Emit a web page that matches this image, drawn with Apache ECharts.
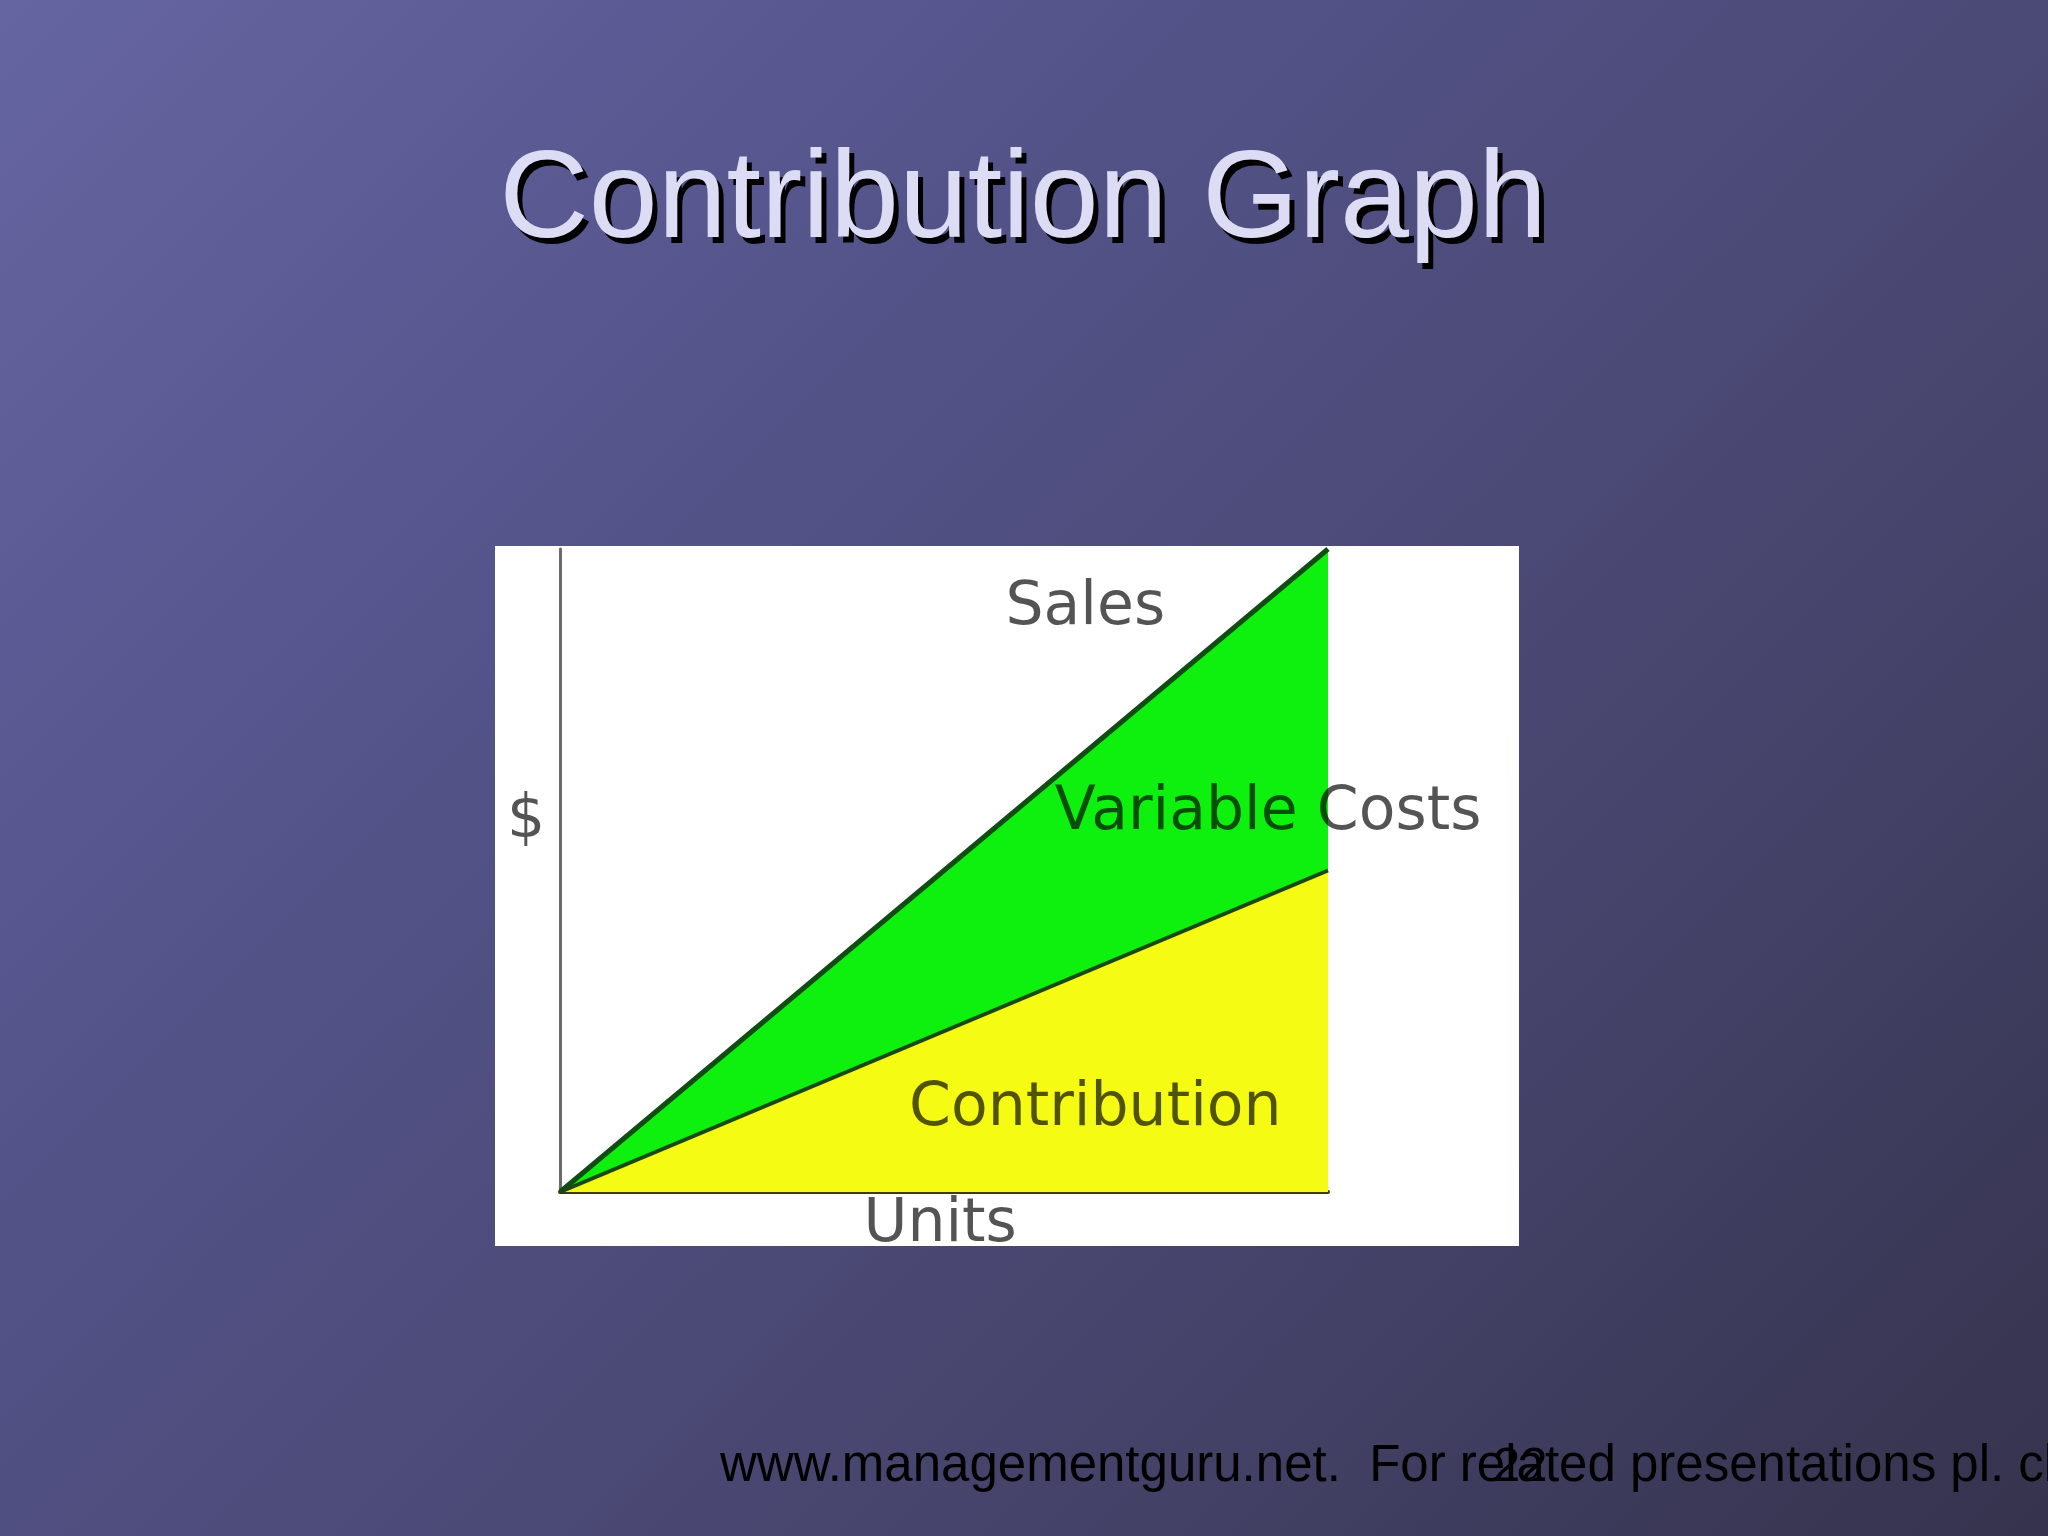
<!DOCTYPE html>
<html>
<head>
<meta charset="utf-8">
<script src="https://cdn.jsdelivr.net/npm/echarts@6/dist/echarts.min.js"></script>
<style>
html,body{margin:0;padding:0;width:2048px;height:1536px;overflow:hidden;
background: linear-gradient(135deg, #6565a2 0%, #55548b 30%, #48466f 65%, #35334d 100%);}
#c{width:2048px;height:1536px;}
</style>
</head>
<body>
<div id="c"></div>
<script>
// Data
const units = [0, 100];
const sales = [0, 100];
const variableCosts = [0, 50];
// Annotation labels (text, anchor in data units)
const labelTexts = ['Sales', 'Variable Costs', 'Contribution', 'Units', '$'];
const labelAnchors = [[68.4, 90.7], [92.2, 58.9], [69.7, 12.9], [49.5, -5.2], [-4.4, 57.6]];

const chart = echarts.init(document.getElementById('c'), null, {renderer: 'canvas'});
const salesData = units.map((u, i) => [u, sales[i]]);
const vcData = units.map((u, i) => [u, variableCosts[i]]);
const labelData = labelTexts.map((t, i) => ({name: t, value: labelAnchors[i]}));

const titleFont = '124px "Liberation Sans", Arial, sans-serif';
chart.setOption({
  backgroundColor: 'transparent',
  animation: false,
  graphic: [
    {type: 'rect', z: -10, shape: {x: 495, y: 546, width: 1024, height: 700}, style: {fill: '#ffffff'}},
    {type: 'text', z: 9, x: 1028, y: 147, style: {text: 'Contribution Graph', font: titleFont,
      fill: '#000000', align: 'center', verticalAlign: 'top'}},
    {type: 'text', z: 10, x: 1023, y: 141, style: {text: 'Contribution Graph', font: titleFont,
      fill: '#dcdcf5', align: 'center', verticalAlign: 'top'}},
    {type: 'text', z: 10, x: 720, y: 1441, style: {text: 'www.managementguru.net.  For related presentations pl. click the link', font: '51px "Liberation Sans", Arial, sans-serif',
      fill: '#000', align: 'left', verticalAlign: 'top'}},
    {type: 'text', z: 11, x: 1493, y: 1443, style: {text: '22', font: '49px "Liberation Sans", Arial, sans-serif',
      fill: '#000', align: 'left', verticalAlign: 'top'}}
  ],
  grid: {left: 560, right: 720, top: 549, bottom: 344, containLabel: false},
  xAxis: {type: 'value', min: 0, max: 100, axisLine: {show: true, onZero: false, lineStyle: {color: '#3d3a14', width: 4}},
    axisTick: {show: false}, axisLabel: {show: false}, splitLine: {show: false}},
  yAxis: {type: 'value', min: 0, max: 100, axisLine: {show: true, onZero: false, lineStyle: {color: '#6a6a6a', width: 3}},
    axisTick: {show: false}, axisLabel: {show: false}, splitLine: {show: false}},
  series: [
    {type: 'line', name: 'Sales', data: salesData, symbol: 'none', z: 2,
      lineStyle: {color: '#0f4d12', width: 5}, areaStyle: {color: '#0ef00e', opacity: 1}},
    {type: 'line', name: 'Variable Costs', data: vcData, symbol: 'none', z: 3,
      lineStyle: {color: '#1a4718', width: 4}, areaStyle: {color: '#f6fb14', opacity: 1}},
    {type: 'scatter', name: 'labels', data: labelData, symbolSize: 0, clip: false, z: 5, silent: true,
      label: {show: true, position: 'inside', formatter: p => p.name, color: 'rgba(0,0,0,0.84)',
        fontFamily: '"DejaVu Sans", Verdana, sans-serif', fontSize: 60}}
  ]
});
</script>
</body>
</html>
